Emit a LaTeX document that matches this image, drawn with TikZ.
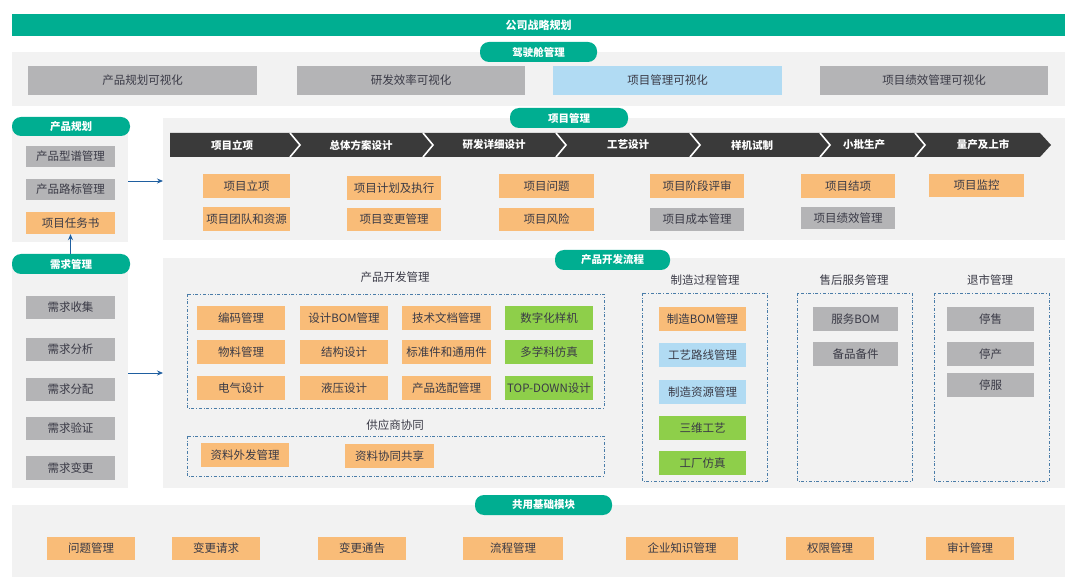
\documentclass[tikz,border=0pt]{standalone}
\usepackage{fontspec}
\setmainfont{Noto Sans CJK SC}
\usetikzlibrary{arrows.meta}
\definecolor{teal}{HTML}{00AE91}
\definecolor{pan}{HTML}{F2F2F2}
\definecolor{gr}{HTML}{B4B4B6}
\definecolor{org}{HTML}{F9BC78}
\definecolor{lb}{HTML}{B1DBF3}
\definecolor{grn}{HTML}{8ECF4A}
\definecolor{txt}{HTML}{3A3A46}
\definecolor{dk}{HTML}{3A3A3A}
\definecolor{dash}{HTML}{4A7CA8}
\definecolor{arr}{HTML}{1F5FA0}
\tikzset{
 box/.style={draw=none,inner sep=0pt,text=txt,font=\fontsize{11.5}{13}\selectfont},
 badge/.style={draw=none,fill=teal,rounded corners=9pt,inner sep=0pt,text=white,font=\fontsize{10.5}{12}\selectfont\bfseries},
 panel/.style={fill=pan,draw=none},
 dbox/.style={draw=dash,dash dot,line width=0.7pt},
 lbl/.style={text=txt,font=\fontsize{11.5}{13}\selectfont},
 con/.style={draw=arr,line width=0.8pt,-{Stealth[length=6pt,width=5pt]}}
}
\newcommand\B[7]{\node[box,fill=#6,minimum width={#4-#2},minimum height={#5-#3}] (#1) at ({(#2+#4)/2},{(#3+#5)/2}) {#7};}
\newcommand\G[6]{\node[badge,minimum width={#4-#2},minimum height={#5-#3}] (#1) at ({(#2+#4)/2},{(#3+#5)/2}) {#6};}
\begin{document}
\begin{tikzpicture}[x=1pt,y=-1pt]
\useasboundingbox[fill=white] (0,0) rectangle (1080,585);
% top
\node[fill=teal,minimum width=1053,minimum height=22,inner sep=0pt,text=white,font=\fontsize{11}{12}\selectfont\bfseries] (top) at (538.5,25) {公司战略规划};
% cockpit
\fill[pan] (12,52) rectangle (1065,106);
\G{gcock}{480}{42}{597}{62}{驾驶舱管理}
\B{c1}{28}{66}{257}{95}{gr}{产品规划可视化}
\B{c2}{297}{66}{525}{95}{gr}{研发效率可视化}
\B{c3}{553}{66}{782}{95}{lb}{项目管理可视化}
\B{c4}{820}{66}{1048}{95}{gr}{项目绩效管理可视化}
% product planning
\fill[pan] (12,122) rectangle (128,242);
\G{gpp}{12}{117}{130}{136}{产品规划}
\B{pp1}{26}{146}{115}{167}{gr}{产品型谱管理}
\B{pp2}{26}{179}{115}{200}{gr}{产品路标管理}
\B{pp3}{26}{212}{115}{234}{org}{项目任务书}
% project mgmt
\fill[pan] (163,118) rectangle (1065,240);
\G{gpm}{510}{108}{628}{128}{项目管理}
\fill[dk] (170,133) -- (1040,133) -- (1051,145) -- (1040,157) -- (170,157) -- cycle;
\foreach \b in {290,423,556,690,820,915}{\draw[white,line width=1.6pt] (\b,133) -- (\b+10,145) -- (\b,157);}
\foreach \c/\t in {232/项目立项,361/总体方案设计,494/研发详细设计,628/工艺设计,752/样机试制,864/小批生产,983/量产及上市}
  {\node[text=white,font=\fontsize{10.5}{12}\selectfont\bfseries] at (\c,145) {\t};}
\B{p1}{203}{174}{290}{198}{org}{项目立项}
\B{p2}{203}{207}{290}{231}{org}{项目团队和资源}
\B{p3}{347}{176}{441}{200}{org}{项目计划及执行}
\B{p4}{347}{208}{441}{231}{org}{项目变更管理}
\B{p5}{499}{174}{594}{198}{org}{项目问题}
\B{p6}{499}{208}{594}{231}{org}{项目风险}
\B{p7}{650}{174}{744}{198}{org}{项目阶段评审}
\B{p8}{650}{208}{744}{231}{gr}{项目成本管理}
\B{p9}{801}{174}{895}{198}{org}{项目结项}
\B{p10}{801}{207}{895}{229}{gr}{项目绩效管理}
\B{p11}{929}{174}{1024}{197}{org}{项目监控}
% requirements
\fill[pan] (12,262) rectangle (128,488);
\G{greq}{12}{254}{130}{274}{需求管理}
\B{r1}{26}{296}{115}{319}{gr}{需求收集}
\B{r2}{26}{338}{115}{361}{gr}{需求分析}
\B{r3}{26}{378}{115}{401}{gr}{需求分配}
\B{r4}{26}{417}{115}{440}{gr}{需求验证}
\B{r5}{26}{456}{115}{480}{gr}{需求变更}
% dev flow
\fill[pan] (163,258) rectangle (1065,488);
\G{gdev}{555}{250}{670}{270}{产品开发流程}
\node[lbl] at (395,277) {产品开发管理};
\draw[dbox] (187,294) rectangle (604,408);
\B{d1}{197}{306}{285}{330}{org}{编码管理}
\B{d2}{300}{306}{388}{330}{org}{设计BOM管理}
\B{d3}{402}{306}{491}{330}{org}{技术文档管理}
\B{d4}{505}{306}{593}{330}{grn}{数字化样机}
\B{d5}{197}{340}{285}{364}{org}{物料管理}
\B{d6}{300}{340}{388}{364}{org}{结构设计}
\B{d7}{402}{340}{491}{364}{org}{标准件和通用件}
\B{d8}{505}{340}{593}{364}{grn}{多学科仿真}
\B{d9}{197}{376}{285}{400}{org}{电气设计}
\B{d10}{300}{376}{388}{400}{org}{液压设计}
\B{d11}{402}{376}{491}{400}{org}{产品选配管理}
\B{d12}{505}{376}{593}{400}{grn}{TOP-DOWN设计}
\node[lbl] at (395,425) {供应商协同};
\draw[dbox] (187,436) rectangle (604,476);
\B{s1}{201}{443}{289}{467}{org}{资料外发管理}
\B{s2}{345}{444}{434}{468}{org}{资料协同共享}
\node[lbl] at (705,280) {制造过程管理};
\draw[dbox] (642,293) rectangle (767,481);
\B{m1}{659}{307}{746}{331}{org}{制造BOM管理}
\B{m2}{659}{343}{746}{367}{lb}{工艺路线管理}
\B{m3}{659}{380}{746}{404}{lb}{制造资源管理}
\B{m4}{659}{416}{746}{440}{grn}{三维工艺}
\B{m5}{659}{451}{746}{475}{grn}{工厂仿真}
\node[lbl] at (854,280) {售后服务管理};
\draw[dbox] (797,293) rectangle (912,481);
\B{a1}{813}{307}{898}{331}{gr}{服务BOM}
\B{a2}{813}{342}{898}{366}{gr}{备品备件}
\node[lbl] at (990,280) {退市管理};
\draw[dbox] (934,293) rectangle (1049,481);
\B{t1}{947}{307}{1034}{331}{gr}{停售}
\B{t2}{947}{342}{1034}{366}{gr}{停产}
\B{t3}{947}{373}{1034}{397}{gr}{停服}
% common
\fill[pan] (12,505) rectangle (1065,577);
\G{gcom}{475}{495}{612}{515}{共用基础模块}
\B{b1}{47}{537}{135}{560}{org}{问题管理}
\B{b2}{172}{537}{260}{560}{org}{变更请求}
\B{b3}{318}{537}{406}{560}{org}{变更通告}
\B{b4}{463}{537}{563}{560}{org}{流程管理}
\B{b5}{626}{537}{738}{560}{org}{企业知识管理}
\B{b6}{786}{537}{874}{560}{org}{权限管理}
\B{b7}{926}{537}{1014}{560}{org}{审计管理}
% connectors
\coordinate (ppR) at (128,181);
\coordinate (pmL) at (163,181);
\coordinate (rqR) at (128,373);
\coordinate (dvL) at (163,373);
\draw[con] (ppR) -- (pmL);
\draw[con] (rqR) -- (dvL);
\draw[con] (greq.north -| pp3.south) -- (pp3.south);
\end{tikzpicture}
\end{document}
